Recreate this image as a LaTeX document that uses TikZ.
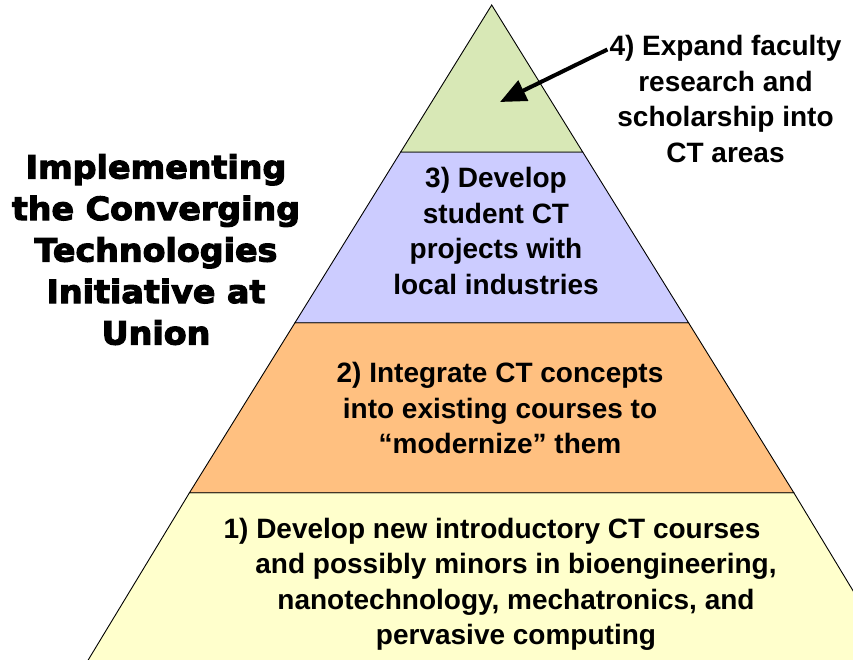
\documentclass[tikz,border=0pt]{standalone}
\usepackage{fontspec}
\setmainfont{Liberation Sans}
\newfontfamily\headfont[FakeBold=3.5,FakeStretch=1.04]{DejaVu Sans}
\usepackage{tikz}
\usetikzlibrary{arrows.meta}

\definecolor{baselayer}{RGB}{255,255,204}
\definecolor{courselayer}{RGB}{255,192,128}
\definecolor{projectlayer}{RGB}{204,204,255}
\definecolor{toplayer}{RGB}{216,232,182}

\tikzset{
	layer/.style={draw=black, line width=0.9pt, line join=miter},
	steplabel/.style={font=\fontsize{28}{35.5}\selectfont\bfseries, align=center, inner sep=0pt, anchor=north},
	headline/.style={font=\headfont\bfseries\fontsize{32}{41.5}\selectfont, align=center, inner sep=0pt, anchor=north}
}

\begin{document}
\begin{tikzpicture}[x=1pt, y=-1pt]
	\useasboundingbox (0,0) rectangle (853,659);
	\clip (0,0) rectangle (853,659);

	% pyramid, bottom to top
	\path[layer, fill=baselayer] (189.5,492.7) -- (793.8,492.7) -- (913,690) -- (70,690) -- cycle;
	\path[layer, fill=courselayer] (295,322.7) -- (688.5,322.7) -- (793.8,492.7) -- (189.5,492.7) -- cycle;
	\path[layer, fill=projectlayer] (400.7,152) -- (582.7,152) -- (688.5,322.7) -- (295,322.7) -- cycle;
	\path[layer, fill=toplayer] (491.7,5) -- (582.7,152) -- (400.7,152) -- cycle;

	\node[headline] (title) at (156,154) {Implementing\\the Converging\\Technologies\\Initiative at\\Union};

	\node[steplabel] (step1) at (516,517.5) {1) Develop new introductory CT courses\hspace*{48pt}\null\\and possibly minors in bioengineering,\\nanotechnology, mechatronics, and\\pervasive computing};
	\node[steplabel] (step2) at (500,362.5) {2) Integrate CT concepts\\into existing courses to\\“modernize” them};
	\node[steplabel] (step3) at (496,167.5) {3) Develop\\student CT\\projects with\\local industries};
	\node[steplabel] (step4) at (725.5,35.5) {4) Expand faculty\\research and\\scholarship into\\CT areas};

	\coordinate (aim) at (500,102);
	\draw[line width=4pt, -{Triangle[length=26pt,width=22pt]}] ([xshift=-2pt,yshift=-14pt]step4.north west) -- (aim);
\end{tikzpicture}
\end{document}
